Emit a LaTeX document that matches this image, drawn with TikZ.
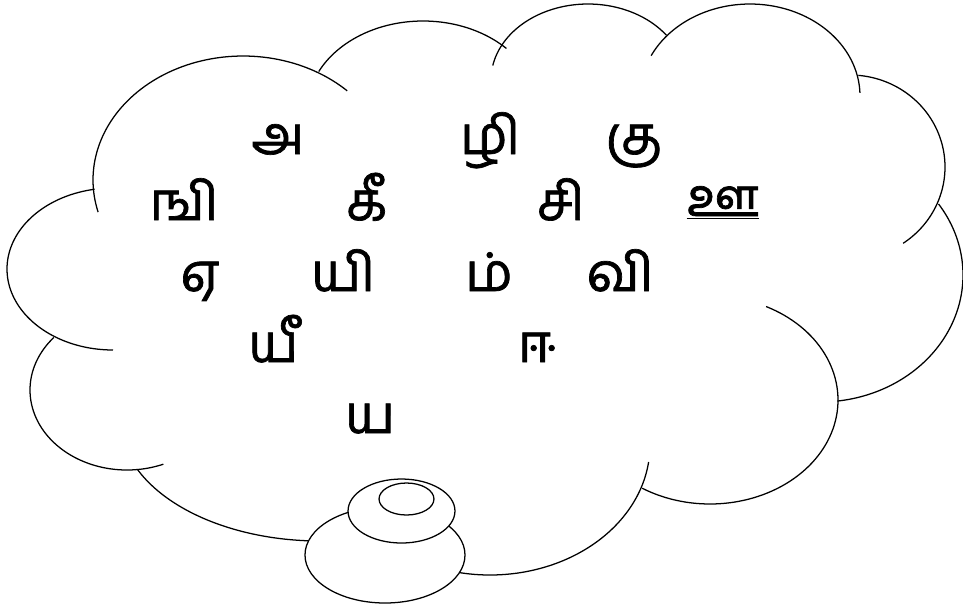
\documentclass[tikz,border=0pt]{standalone}
\usepackage{fontspec}
\newfontfamily\tamilfont[Script=Tamil, FakeBold=1.3]{Hind Madurai}
\newcommand\cloudlobe[6]{\draw[cl] plot[domain=#5:#6, samples=80] ({#1+#3*cos(\x)},{#2+#4*sin(\x)});}
\begin{document}
\begin{tikzpicture}[x=0.75pt,y=-0.75pt,
  cl/.style={draw=black, line width=0.95pt},
  tl/.style={font=\tamilfont\fontsize{40}{48}\selectfont, anchor=base, inner sep=0pt}]
\useasboundingbox (0,0) rectangle (963,612);
% cloud lobes
\cloudlobe{243}{180}{150}{124}{165}{314}
\cloudlobe{423}{111}{116}{90}{206}{316}
\cloudlobe{588}{80}{97}{76}{191}{324}
\cloudlobe{750}{96}{110}{92}{206}{358}
\cloudlobe{850}{167}{95}{92}{-85}{56}
\cloudlobe{820}{275}{143}{127}{-34}{83}
\cloudlobe{710}{400}{128}{104}{-64}{122}
\cloudlobe{490}{445}{160}{130}{7.5}{103}
\cloudlobe{320}{420}{200}{121}{80}{156}
\cloudlobe{127}{390}{97}{80}{68}{221}
\cloudlobe{113}{269}{106}{81}{90}{260}
% thought bubbles
\draw[cl, fill=white] (385,555) ellipse [x radius=60pt, y radius=36pt];
\draw[cl, fill=white] (401.5,511) ellipse [x radius=40.1pt, y radius=24pt];
\draw[cl, fill=white] (406.5,499) ellipse [x radius=20.6pt, y radius=12pt];
% letters
\node[tl] (t1) at (278,154) {அ};
\node[tl] (t2) at (490,154) {ழி};
\node[tl] (t3) at (634,154) {கு};
\node[tl] (t4) at (184,220) {ஙி};
\node[tl] (t5) at (367,220) {கீ};
\node[tl] (t6) at (561,220) {சி};
\node[tl] (t7) at (723,216) {\underline{ஊ}};
\node[tl] (t8) at (200,291) {ஏ};
\node[tl] (t9) at (343,291) {யி};
\node[tl] (t10) at (489,291) {ம்};
\node[tl] (t11) at (620,291) {வி};
\node[tl] (t12) at (274,362) {யீ};
\node[tl] (t13) at (537,362) {ஈ};
\node[tl] (t14) at (370,433) {ய};
\end{tikzpicture}
\end{document}
